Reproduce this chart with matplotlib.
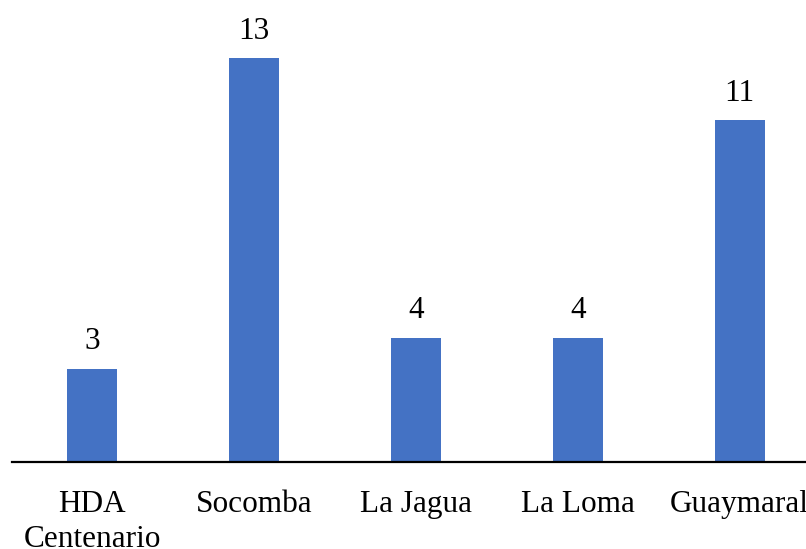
import matplotlib
matplotlib.use("Agg")
from matplotlib import pyplot as plt

categories = ['HDA\nCentenario', 'Socomba', 'La Jagua', 'La Loma', 'Guaymaral']
values = [3, 13, 4, 4, 11]

plt.rcParams['font.family'] = ['Liberation Serif', 'DejaVu Serif']

fig = plt.figure(figsize=(8.06, 5.49), dpi=100)
ax = fig.add_axes([12 / 806, 87 / 549, 794 / 806, 435 / 549])

x = list(range(len(categories)))
bars = ax.bar(x, values, width=0.31, color='#4472C4')

for xi, v in zip(x, values):
    ax.annotate(str(v), (xi, v), xytext=(0, 9), textcoords='offset points',
                ha='center', va='bottom', fontsize=22.5, color='black')

ax.set_xlim(-0.495, 4.41)
ax.set_ylim(0, 14)
ax.set_xticks(x)
ax.set_xticklabels(categories, fontsize=22.5, linespacing=1.3)
ax.tick_params(axis='x', length=0, pad=20)
ax.set_yticks([])
for side in ['top', 'right', 'left']:
    ax.spines[side].set_visible(False)
ax.spines['bottom'].set_linewidth(1.6)
ax.spines['bottom'].set_color('black')

fig.savefig('out.png', dpi=100)
